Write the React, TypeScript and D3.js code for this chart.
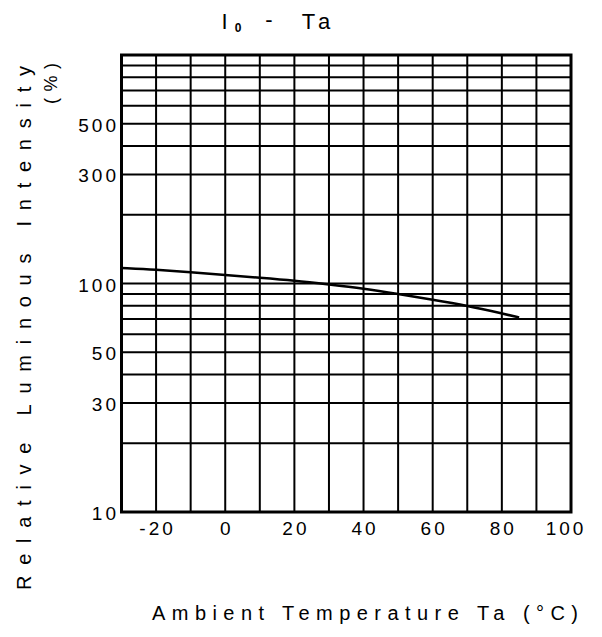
import React, { useEffect, useRef } from "react";
import * as d3 from "d3";

// temperature (°C) and relative luminous intensity (%)
const temps = [-30, -20, -10, 0, 10, 20, 30, 40, 50, 60, 70, 80, 85];
const intensity = [117, 115, 112, 109, 106, 103, 99, 95, 90, 85, 80, 74, 71];

const xTicks = [-20, 0, 20, 40, 60, 80, 100];
const yTickLabels = [10, 30, 50, 100, 300, 500];
const yGrid = [20, 30, 40, 50, 60, 70, 80, 90, 100, 200, 300, 400, 500, 600, 700, 800, 900];
const xGrid = d3.range(-20, 100, 10);

const App = () => {
  const svgRef = useRef<SVGSVGElement>(null);

  useEffect(() => {
    const width = 602;
    const height = 637;
    const plot = { left: 121.5, right: 571, top: 55, bottom: 512 };
    const font = "'Liberation Sans', Arial, sans-serif";

    const svg = d3.select(svgRef.current);
    svg.selectAll("*").remove();
    svg.attr("width", width).attr("height", height);

    svg.append("rect").attr("width", width).attr("height", height).attr("fill", "#fff");

    const x = d3.scaleLinear().domain([-30, 100]).range([plot.left, plot.right]);
    const y = d3.scaleLog().domain([10, 1000]).range([plot.bottom, plot.top]);

    // grid
    svg
      .append("g")
      .selectAll("line")
      .data(xGrid)
      .enter()
      .append("line")
      .attr("x1", (d) => x(d))
      .attr("x2", (d) => x(d))
      .attr("y1", plot.top)
      .attr("y2", plot.bottom)
      .attr("stroke", "#000")
      .attr("stroke-width", 2);

    svg
      .append("g")
      .selectAll("line")
      .data(yGrid)
      .enter()
      .append("line")
      .attr("x1", plot.left)
      .attr("x2", plot.right)
      .attr("y1", (d) => y(d))
      .attr("y2", (d) => y(d))
      .attr("stroke", "#000")
      .attr("stroke-width", 2);

    // frame
    svg
      .append("rect")
      .attr("x", plot.left)
      .attr("y", plot.top)
      .attr("width", plot.right - plot.left)
      .attr("height", plot.bottom - plot.top)
      .attr("fill", "none")
      .attr("stroke", "#000")
      .attr("stroke-width", 3);

    // curve
    const line = d3
      .line<number>()
      .x((d, i) => x(temps[i]))
      .y((d) => y(d))
      .curve(d3.curveBasis);

    svg
      .append("path")
      .datum(intensity)
      .attr("d", line)
      .attr("fill", "none")
      .attr("stroke", "#000")
      .attr("stroke-width", 2.5);

    // tick labels
    svg
      .append("g")
      .selectAll("text")
      .data(xTicks)
      .enter()
      .append("text")
      .attr("x", (d) => x(d) + (d === 100 ? -5 : 1.5))
      .attr("y", 535)
      .attr("text-anchor", "middle")
      .style("font-family", font)
      .style("font-size", "19px")
      .style("letter-spacing", "3px")
      .text((d) => String(d));

    svg
      .append("g")
      .selectAll("text")
      .data(yTickLabels)
      .enter()
      .append("text")
      .attr("x", 119)
      .attr("y", (d) => y(d) + 8)
      .attr("text-anchor", "end")
      .style("font-family", font)
      .style("font-size", "19px")
      .style("letter-spacing", "3px")
      .text((d) => String(d));

    // title  I0 - Ta
    const title = svg.append("g").style("font-family", font).attr("text-anchor", "middle");
    title.append("text").attr("x", 224.5).attr("y", 29).style("font-size", "22px").text("I");
    title.append("text").attr("x", 238).attr("y", 32).style("font-size", "12px").style("font-weight", "bold").text("0");
    title.append("text").attr("x", 269).attr("y", 27).style("font-size", "22px").text("-");
    title.append("text").attr("x", 308.5).attr("y", 29).style("font-size", "22px").text("T");
    title.append("text").attr("x", 324).attr("y", 29).style("font-size", "22px").text("a");

    // x axis title
    svg
      .append("text")
      .attr("x", 152)
      .attr("y", 620)
      .attr("textLength", 426)
      .attr("lengthAdjust", "spacing")
      .style("font-family", font)
      .style("font-size", "20px")
      .text("Ambient Temperature Ta (°C)");

    // y axis title
    svg
      .append("text")
      .attr("transform", "translate(31,590) rotate(-90)")
      .attr("textLength", 524)
      .attr("lengthAdjust", "spacing")
      .style("font-family", font)
      .style("font-size", "20px")
      .text("Relative Luminous Intensity");

    svg
      .append("text")
      .attr("transform", "translate(57,104) rotate(-90)")
      .attr("textLength", 41)
      .attr("lengthAdjust", "spacing")
      .style("font-family", font)
      .style("font-size", "18px")
      .text("(%)");
  }, []);

  return (
    <div style={{ position: "absolute", left: 0, top: 0 }}>
      <svg ref={svgRef} style={{ display: "block" }}></svg>
    </div>
  );
};

export default App;
